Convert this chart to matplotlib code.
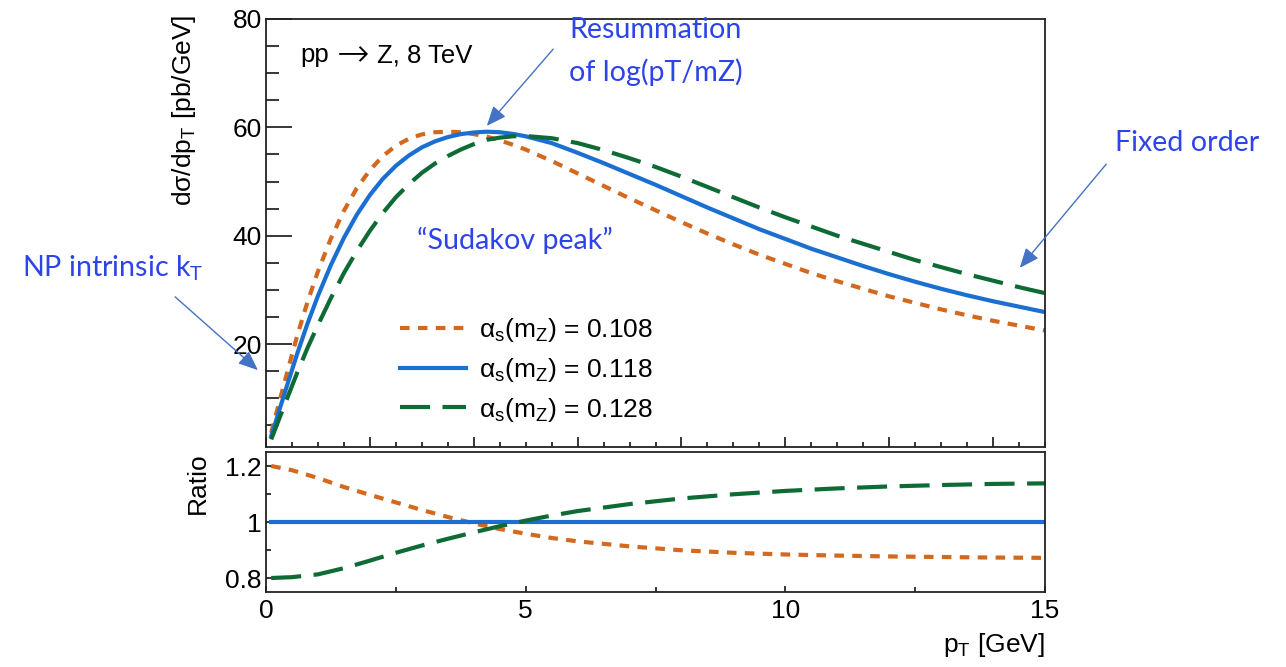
import matplotlib
matplotlib.use("Agg")
import matplotlib.pyplot as plt
from matplotlib.lines import Line2D
from matplotlib.patches import FancyArrowPatch
from matplotlib.ticker import MultipleLocator, FixedLocator, FuncFormatter

# pT grid (GeV) and dsigma/dpT (pb/GeV)
pt = [0.1, 0.25, 0.4, 0.6, 0.8, 1.0, 1.25, 1.5, 1.75, 2.0, 2.25, 2.5, 2.75,
      3.0, 3.25, 3.5, 3.75, 4.0, 4.25, 4.5, 4.75, 5.0, 5.5, 6.0, 6.5, 7.0,
      7.5, 8.0, 8.5, 9.0, 9.5, 10.0, 10.5, 11.0, 11.5, 12.0, 12.5, 13.0,
      13.5, 14.0, 14.5, 15.0]
xs_108 = [3.6, 9.1, 14.5, 21.5, 27.8, 33.4, 39.5, 44.6, 48.8, 52.1, 54.7,
          56.6, 57.9, 58.7, 59.1, 59.2, 59.1, 58.75, 58.3, 57.6, 56.8, 55.9,
          53.8, 51.5, 49.2, 46.9, 44.7, 42.5, 40.4, 38.4, 36.5, 34.8, 33.1,
          31.6, 30.2, 28.8, 27.6, 26.4, 25.3, 24.3, 23.4, 22.5]
xs_118 = [3.0, 7.6, 12.2, 18.2, 23.8, 28.9, 34.6, 39.6, 43.9, 47.5, 50.5,
          52.9, 54.8, 56.3, 57.4, 58.2, 58.75, 59.05, 59.2, 59.1, 58.8, 58.35,
          57.1, 55.3, 53.4, 51.4, 49.4, 47.3, 45.2, 43.2, 41.2, 39.4, 37.6,
          36.0, 34.4, 32.9, 31.5, 30.2, 29.0, 27.9, 26.9, 25.9]
xs_128 = [2.4, 6.1, 9.8, 14.7, 19.3, 23.5, 28.5, 33.1, 37.2, 40.9, 44.2,
          47.1, 49.5, 51.6, 53.3, 54.7, 55.9, 56.9, 57.7, 58.1, 58.35, 58.4,
          58.0, 57.1, 55.8, 54.3, 52.7, 50.9, 49.0, 47.1, 45.2, 43.4, 41.7,
          40.0, 38.5, 37.0, 35.5, 34.2, 32.9, 31.7, 30.5, 29.4]

# ratio to alpha_s = 0.118
pt_r = [0.1, 0.5, 1, 1.5, 2, 2.5, 3, 3.5, 4, 4.5, 5, 5.5, 6, 7, 8, 9, 10,
        11, 12, 13, 14, 15]
ratio_108 = [1.200, 1.185, 1.157, 1.125, 1.097, 1.070, 1.043, 1.018, 0.995,
             0.975, 0.958, 0.943, 0.931, 0.913, 0.899, 0.890, 0.884, 0.880,
             0.877, 0.875, 0.873, 0.872]
ratio_118 = [1.0] * len(pt_r)
ratio_128 = [0.800, 0.803, 0.813, 0.835, 0.862, 0.890, 0.916, 0.940, 0.963,
             0.985, 1.005, 1.023, 1.039, 1.064, 1.084, 1.099, 1.111, 1.120,
             1.127, 1.132, 1.136, 1.138]

labels = [r"$\mathregular{\alpha_s(m_Z)}$ = 0.108",
          r"$\mathregular{\alpha_s(m_Z)}$ = 0.118",
          r"$\mathregular{\alpha_s(m_Z)}$ = 0.128"]

ORANGE = "#d2691e"
BLUE = "#1a6fd1"
GREEN = "#0f6b35"
NOTE = "#2d44e8"
ARROW = "#4472c4"

W, H = 1286, 667
plt.rcParams["font.family"] = ["Liberation Sans", "DejaVu Sans"]
plt.rcParams["mathtext.fontset"] = "custom"
plt.rcParams["mathtext.rm"] = "Liberation Sans"
plt.rcParams["mathtext.it"] = "Liberation Sans:italic"
plt.rcParams["mathtext.sf"] = "Liberation Sans"


def frac(x, y):
    return x / W, 1 - y / H


fig = plt.figure(figsize=(W / 100, H / 100), dpi=100)
ax = fig.add_axes([266 / W, 1 - 447 / H, 779 / W, 428 / H])
ax2 = fig.add_axes([266 / W, 1 - 592 / H, 779 / W, 140 / H])

styles = [dict(color=ORANGE, lw=3, dashes=(2.3, 2.0)),
          dict(color=BLUE, lw=3, ls="-"),
          dict(color=GREEN, lw=3, dashes=(7.2, 3.0))]

for ys, st in zip([xs_108, xs_118, xs_128], styles):
    ax.plot(pt, ys, **st)
for ys, st in zip([ratio_108, ratio_118, ratio_128], styles):
    ax2.plot(pt_r, ys, **st)

# axes styling, ROOT-like
for a in (ax, ax2):
    a.set_xlim(0, 15)
    for s in a.spines.values():
        s.set_linewidth(1.3)
        s.set_color("#222222")

ax.set_ylim(1, 80)
ax.xaxis.set_major_locator(MultipleLocator(2))
ax.xaxis.set_minor_locator(MultipleLocator(0.5))
ax.yaxis.set_major_locator(MultipleLocator(20))
ax.yaxis.set_minor_locator(MultipleLocator(5))
ax.tick_params(axis="y", which="major", direction="in", length=18.7,
               width=1.1, labelsize=19, pad=3)
ax.tick_params(axis="y", which="minor", direction="in", length=9.5, width=1.1)
ax.tick_params(axis="x", which="major", direction="in", length=7.2,
               width=1.1, labelbottom=False)
ax.tick_params(axis="x", which="minor", direction="in", length=3.6, width=1.1)

ax2.set_ylim(0.75, 1.25)
ax2.xaxis.set_major_locator(MultipleLocator(5))
ax2.xaxis.set_minor_locator(MultipleLocator(2.5))
ax2.yaxis.set_major_locator(FixedLocator([0.8, 1.0, 1.2]))
ax2.yaxis.set_minor_locator(FixedLocator([0.9, 1.1]))
ax2.yaxis.set_major_formatter(FuncFormatter(lambda v, p: "%g" % v))
ax2.tick_params(axis="both", which="major", direction="in", length=6.5,
                width=1.1, labelsize=19)
ax2.tick_params(axis="y", which="major", pad=3)
ax2.tick_params(axis="x", which="major", pad=5, length=4.3)
ax2.tick_params(axis="both", which="minor", direction="in", length=3.5,
                width=1.1)

# axis titles
ax.text(-0.105, 1.01, "dσ/dp$_\\mathregular{T}$ [pb/GeV]", rotation=90,
        ha="center", va="top", fontsize=19, transform=ax.transAxes)
ax2.text(-0.088, 1.0, "Ratio", rotation=90, ha="center", va="top",
         fontsize=19, transform=ax2.transAxes)
fig.text(*frac(1045, 645), "p$_\\mathregular{T}$ [GeV]", ha="right",
         va="center", fontsize=19)

# process label, with a wider, thin arrow glyph
fig.text(*frac(300, 55), "pp", ha="left", va="center", fontsize=18.5)
fig.text(*frac(353, 55), "\u2192", ha="center", va="center", fontsize=28,
         family="DejaVu Sans", fontweight="light")
fig.text(*frac(377, 55), "Z, 8 TeV", ha="left", va="center", fontsize=18.5)

# legend
handles = [Line2D([], [], **st) for st in styles]
ax.legend(handles, labels, loc="upper left", bbox_to_anchor=(0.172, 0.305),
          frameon=False, fontsize=19, handlelength=2.5, handletextpad=0.5,
          labelspacing=0.44, borderpad=0, borderaxespad=0)

# blue slide annotations
note = dict(color=NOTE, fontsize=20.6, family=["Lato", "DejaVu Sans"])
fig.text(*frac(569, 30), "Resummation", ha="left", va="center", **note)
fig.text(*frac(569, 72), "of log(pT/mZ)", ha="left", va="center", **note)
fig.text(*frac(417, 240), "\u201cSudakov peak\u201d", ha="left", va="center",
         **note)
fig.text(*frac(1115, 143), "Fixed order", ha="left", va="center", **note)
fig.text(*frac(22, 268), "NP intrinsic k$_\\mathregular{T}$", ha="left",
         va="center", **note)

for start, end in [((555, 47), (485, 128)),
                   ((173, 295), (260, 372)),
                   ((1108, 162), (1018, 270))]:
    fig.add_artist(FancyArrowPatch(frac(*start), frac(*end),
                                   transform=fig.transFigure,
                                   arrowstyle="-|>,head_length=1.2,head_width=0.5",
                                   mutation_scale=10, color=ARROW, lw=1.0))

fig.savefig("out.png", dpi=100)
